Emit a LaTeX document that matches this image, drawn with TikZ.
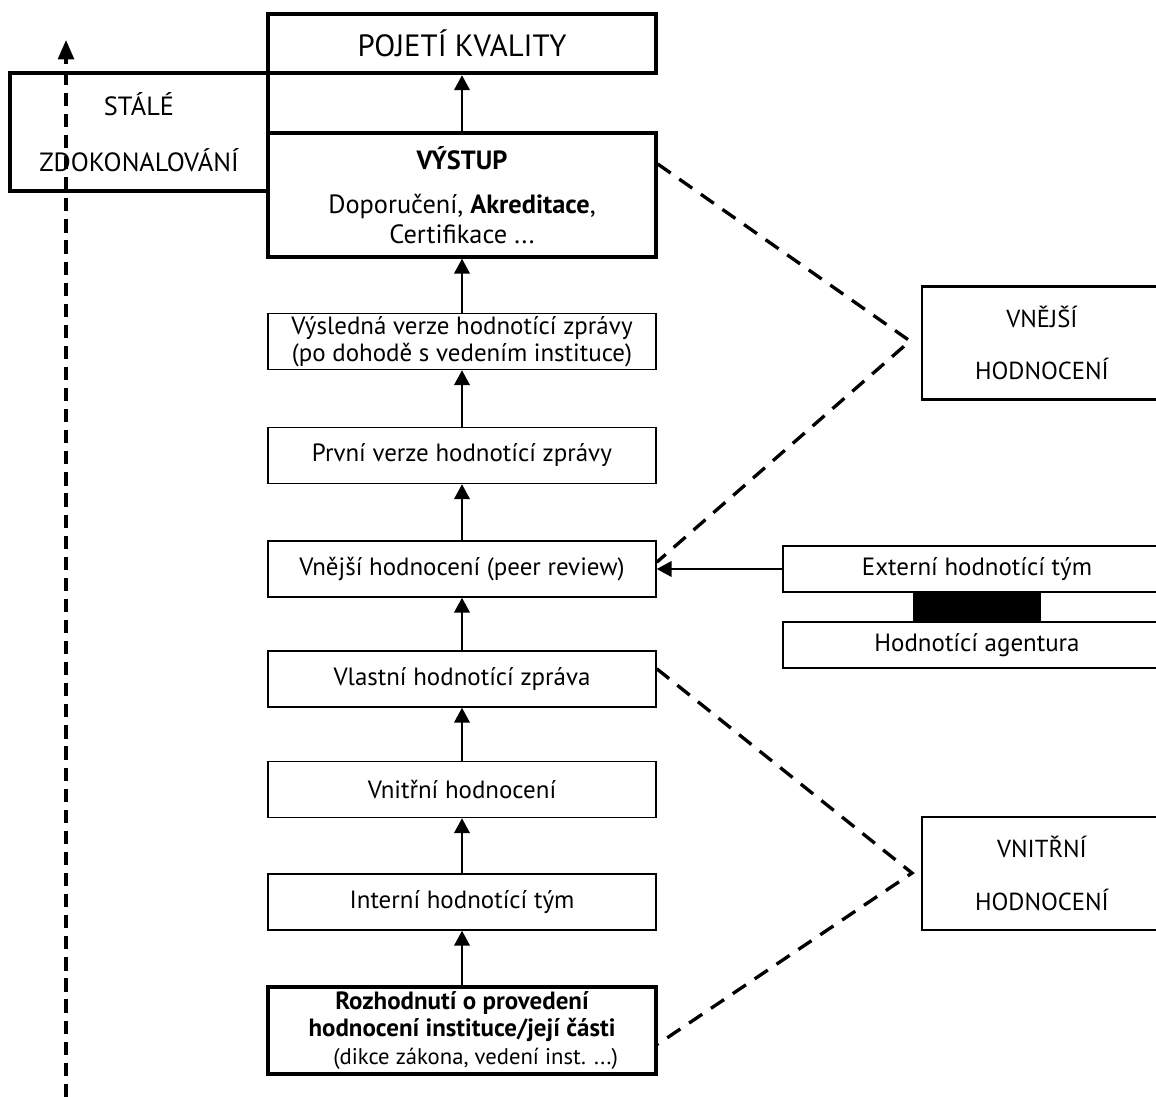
\documentclass[tikz,border=0pt]{standalone}
\usepackage{fontspec}
\setmainfont{PT Sans}
\usetikzlibrary{arrows.meta}

\begin{document}
\begin{tikzpicture}[x=0.02cm,y=-0.02cm,
  box/.style={draw,line width=0.9pt,minimum width=7.76cm,minimum height=1.12cm,inner sep=0pt,align=center,font=\fontsize{14.2}{15.5}\selectfont},
  thickbox/.style={box,line width=2pt},
  sidebox/.style={draw,line width=1.5pt,minimum width=4.8cm,minimum height=2.26cm,inner sep=0pt,align=center,font=\fontsize{14}{16}\selectfont},
  up/.style={-{Triangle[length=8.5pt,width=9pt]},line width=0.85pt},
  link/.style={line width=1.9pt,dash pattern=on 9pt off 6pt}]
\useasboundingbox (0,0) rectangle (1156,1097);
% main column
\node[thickbox,line width=2.6pt,minimum height=1.18cm,font=\fontsize{17.5}{20}\selectfont] (pojeti) at (462,43.5) {POJETÍ KVALITY};
\node[thickbox,minimum width=5.16cm,minimum height=2.36cm,font=\fontsize{15}{17}\selectfont] (stale) at (139,132) {STÁLÉ\\[15pt]ZDOKONALOVÁNÍ};
\node[thickbox,fill=white,minimum height=2.48cm,font=\fontsize{15}{17}\selectfont] (vystup) at (462,195) {\textbf{VÝSTUP}\\[8pt]Doporučení, \textbf{Akreditace},\\Certifikace ...};
\node[box] (vysledna) at (462,341.5) {Výsledná verze hodnotící zprávy\\(po dohodě s vedením instituce)};
\node[box] (prvni) at (462,455.5) {První verze hodnotící zprávy};
\node[box] (vnejsi) at (462,569) {Vnější hodnocení (peer review)};
\node[box] (vlastni) at (462,679) {Vlastní hodnotící zpráva};
\node[box] (vnitrni) at (462,789.5) {Vnitřní hodnocení};
\node[box] (interni) at (462,902) {Interní hodnotící tým};
\node[thickbox,minimum height=1.74cm] (rozhod) at (462,1030.5) {\textbf{Rozhodnutí o provedení}\\\textbf{hodnocení instituce/její části}\\{\fontsize{12.9}{15}\selectfont\hspace*{1.2em}(dikce zákona, vedení inst. ...)}};
% right side
\node[sidebox] (vnejsiH) at (1042,343) {VNĚJŠÍ\\[14pt]HODNOCENÍ};
\node[sidebox] (vnitrniH) at (1042,873.5) {VNITŘNÍ\\[14pt]HODNOCENÍ};
\node[box,line width=1.1pt,minimum height=0.92cm] (tym) at (977,569) {Externí hodnotící tým};
\node[box,line width=1.1pt,minimum height=0.92cm] (agentura) at (977,645) {Hodnotící agentura};
\fill (913,592) rectangle (1041,622);
% connectors
\draw[up] (vystup) -- (pojeti);
\draw[up] (vysledna) -- (vystup);
\draw[up] (prvni) -- (vysledna);
\draw[up] (vnejsi) -- (prvni);
\draw[up] (vlastni) -- (vnejsi);
\draw[up] (vnitrni) -- (vlastni);
\draw[up] (interni) -- (vnitrni);
\draw[up] (rozhod) -- (interni);
\draw[up] (tym.west) -- (vnejsi.east);
\coordinate (exV) at (910,341);
\coordinate (inV) at (912,873);
\draw[link] (vystup.9) -- (exV) -- (vnejsi.2);
\draw[link] (vlastni.3) -- (inV) -- (rozhod.-4);
\coordinate (loopS) at (66,1097);
\coordinate (loopE) at (66,40);
\draw[link,dash pattern=on 7.5pt off 4.5pt,-{Triangle[length=11pt,width=9pt]}] (loopS) -- (loopE);
\end{tikzpicture}
\end{document}
